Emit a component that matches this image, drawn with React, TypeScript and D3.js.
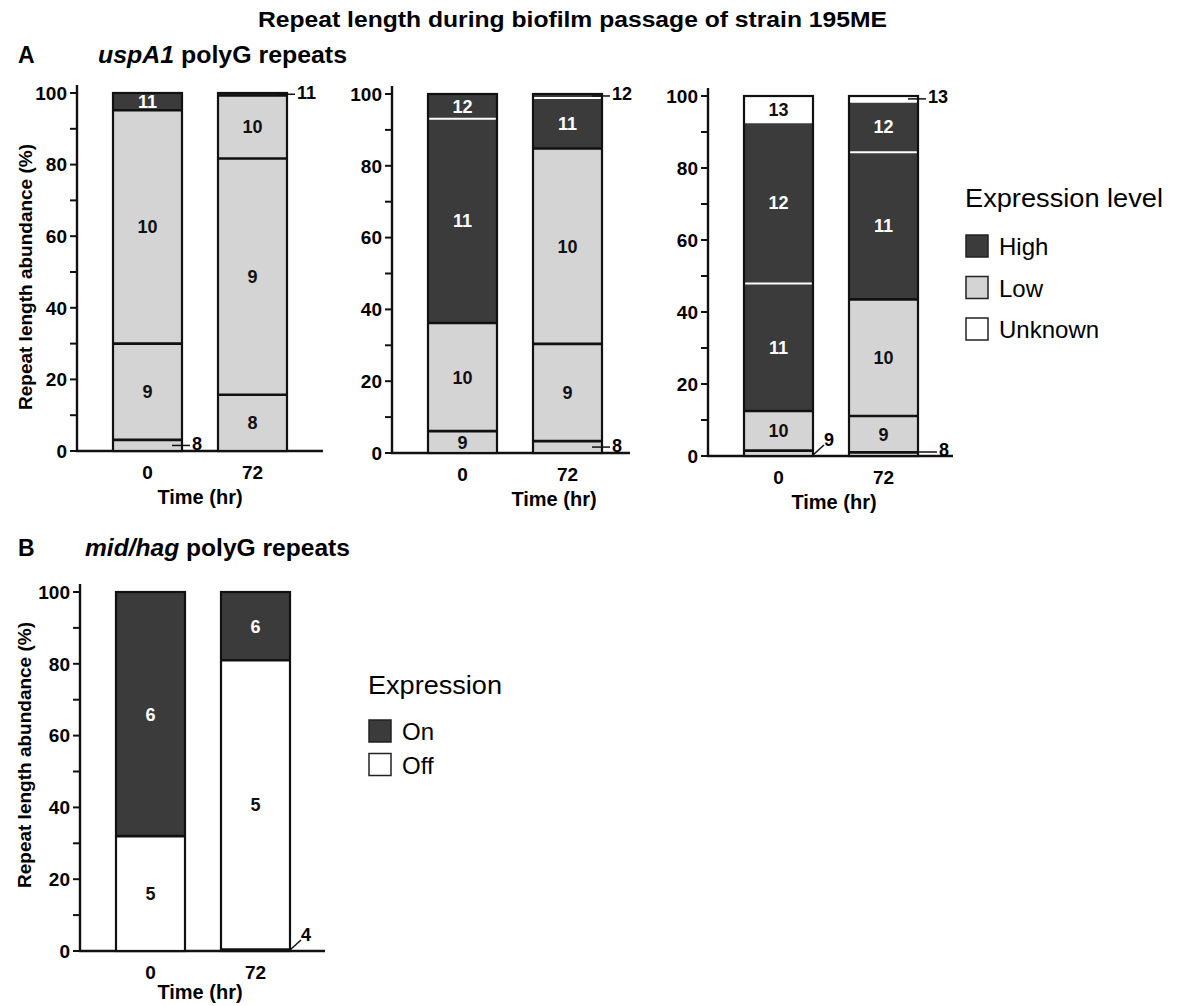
import { useEffect, useRef } from 'react';
import * as d3 from 'd3';

type Level = 'High' | 'Low' | 'Unknown' | 'On' | 'Off';

interface Segment {
    repeat: number;
    pct: number;
    level: Level;
}

// x categories and y ticks
const timeLabels = ['0', '72'];
const yTicks = [0, 20, 40, 60, 80, 100];
const yMinorTicks = [10, 30, 50, 70, 90];

// uspA1, first isolate
const a1Hr0: Segment[] = [
    { repeat: 8, pct: 3.1, level: 'Low' },
    { repeat: 9, pct: 26.9, level: 'Low' },
    { repeat: 10, pct: 65.2, level: 'Low' },
    { repeat: 11, pct: 4.8, level: 'High' },
];
const a1Hr72: Segment[] = [
    { repeat: 8, pct: 15.7, level: 'Low' },
    { repeat: 9, pct: 66.0, level: 'Low' },
    { repeat: 10, pct: 17.6, level: 'Low' },
    { repeat: 11, pct: 0.7, level: 'High' },
];

// uspA1, second isolate
const a2Hr0: Segment[] = [
    { repeat: 9, pct: 6.1, level: 'Low' },
    { repeat: 10, pct: 30.1, level: 'Low' },
    { repeat: 11, pct: 56.9, level: 'High' },
    { repeat: 12, pct: 6.9, level: 'High' },
];
const a2Hr72: Segment[] = [
    { repeat: 8, pct: 3.3, level: 'Low' },
    { repeat: 9, pct: 27.1, level: 'Low' },
    { repeat: 10, pct: 54.4, level: 'Low' },
    { repeat: 11, pct: 14.1, level: 'High' },
    { repeat: 12, pct: 1.1, level: 'High' },
];

// uspA1, third isolate
const a3Hr0: Segment[] = [
    { repeat: 9, pct: 1.5, level: 'Low' },
    { repeat: 10, pct: 11.0, level: 'Low' },
    { repeat: 11, pct: 35.4, level: 'High' },
    { repeat: 12, pct: 44.8, level: 'High' },
    { repeat: 13, pct: 7.3, level: 'Unknown' },
];
const a3Hr72: Segment[] = [
    { repeat: 8, pct: 1.0, level: 'Low' },
    { repeat: 9, pct: 10.1, level: 'Low' },
    { repeat: 10, pct: 32.4, level: 'Low' },
    { repeat: 11, pct: 40.9, level: 'High' },
    { repeat: 12, pct: 14.0, level: 'High' },
    { repeat: 13, pct: 1.6, level: 'Unknown' },
];

// mid/hag
const bHr0: Segment[] = [
    { repeat: 5, pct: 32.0, level: 'Off' },
    { repeat: 6, pct: 68.0, level: 'On' },
];
const bHr72: Segment[] = [
    { repeat: 4, pct: 0.4, level: 'Off' },
    { repeat: 5, pct: 80.6, level: 'Off' },
    { repeat: 6, pct: 19.0, level: 'On' },
];

// small segments labelled outside the bar
const callouts = [
    { bar: a1Hr0, repeat: 8, kind: 'flat' },
    { bar: a1Hr72, repeat: 11, kind: 'flat' },
    { bar: a2Hr72, repeat: 12, kind: 'flat' },
    { bar: a2Hr72, repeat: 8, kind: 'flat' },
    { bar: a3Hr0, repeat: 9, kind: 'slant' },
    { bar: a3Hr72, repeat: 13, kind: 'flat' },
    { bar: a3Hr72, repeat: 8, kind: 'outside' },
    { bar: bHr72, repeat: 4, kind: 'slant' },
];

const uspA1Legend: Level[] = ['High', 'Low', 'Unknown'];
const midHagLegend: Level[] = ['On', 'Off'];

const FILL: Record<Level, string> = {
    High: '#3b3b3b',
    On: '#3b3b3b',
    Low: '#d4d4d4',
    Unknown: '#ffffff',
    Off: '#ffffff',
};
const INK = '#111';
const FONT = '"Liberation Sans", Arial, Helvetica, sans-serif';

const panels = [
    { bars: [a1Hr0, a1Hr72], axisX: 77, barX: 113, axisEnd: 323, y0: 451, y100: 93, timeX: 200, timeDy: 53, yLabel: [25, 277] },
    { bars: [a2Hr0, a2Hr72], axisX: 392, barX: 428, axisEnd: 630, y0: 453, y100: 94, timeX: 554, timeDy: 53, yLabel: null },
    { bars: [a3Hr0, a3Hr72], axisX: 708, barX: 744, axisEnd: 953, y0: 456, y100: 96, timeX: 834, timeDy: 53, yLabel: null },
    { bars: [bHr0, bHr72], axisX: 80, barX: 116, axisEnd: 325, y0: 951, y100: 592, timeX: 200, timeDy: 48, yLabel: [24, 755] },
];

const App = () => {
    const svgRef = useRef<SVGSVGElement>(null);

    useEffect(() => {
        if (!svgRef.current) return;
        const svg = d3.select(svgRef.current);
        svg.selectAll('*').remove();
        svg.style('font-family', FONT);

        // Titles
        svg.append('text')
            .attr('x', 258).attr('y', 27)
            .attr('textLength', 629).attr('lengthAdjust', 'spacingAndGlyphs')
            .style('font-size', '22px').style('font-weight', 'bold')
            .text('Repeat length during biofilm passage of strain 195ME');

        const heading = (letter: string, gene: string, y: number, x0: number, x1: number) => {
            svg.append('text').attr('x', 18).attr('y', y)
                .style('font-size', '23px').style('font-weight', 'bold').text(letter);
            const t = svg.append('text').attr('x', x0).attr('y', y)
                .attr('textLength', x1 - x0).attr('lengthAdjust', 'spacingAndGlyphs')
                .style('font-size', '23px').style('font-weight', 'bold');
            t.append('tspan').style('font-style', 'italic').text(gene);
            t.append('tspan').text(' polyG repeats');
        };
        heading('A', 'uspA1', 63, 98, 347);
        heading('B', 'mid/hag', 556, 85, 350);

        panels.forEach(p => {
            const g = svg.append('g');
            const x = d3.scaleBand<string>()
                .domain(timeLabels)
                .range([p.barX - 18, p.barX + 192])
                .paddingInner(36 / 105)
                .paddingOuter(18 / 105);
            const y = d3.scaleLinear().domain([0, 100]).range([p.y0, p.y100]);
            const bw = x.bandwidth();

            // axes
            g.append('line')
                .attr('x1', p.axisX).attr('x2', p.axisX)
                .attr('y1', p.y0).attr('y2', y(100) - 8)
                .attr('stroke', INK).attr('stroke-width', 2.4);
            g.append('line')
                .attr('x1', p.axisX - 1).attr('x2', p.axisEnd)
                .attr('y1', p.y0).attr('y2', p.y0)
                .attr('stroke', INK).attr('stroke-width', 2.4);
            [...yTicks, ...yMinorTicks].forEach(t => {
                g.append('line')
                    .attr('x1', p.axisX - 7).attr('x2', p.axisX)
                    .attr('y1', y(t)).attr('y2', y(t))
                    .attr('stroke', INK).attr('stroke-width', 2);
            });
            yTicks.forEach(t => {
                g.append('text')
                    .attr('x', p.axisX - 10).attr('y', y(t)).attr('dy', '0.36em')
                    .attr('text-anchor', 'end')
                    .style('font-size', '19px').style('font-weight', 'bold')
                    .text(t);
            });
            timeLabels.forEach(t => {
                g.append('text')
                    .attr('x', (x(t) ?? 0) + bw / 2).attr('y', p.y0 + 28)
                    .attr('text-anchor', 'middle')
                    .style('font-size', '19px').style('font-weight', 'bold')
                    .text(t);
            });
            g.append('text')
                .attr('x', p.timeX).attr('y', p.y0 + p.timeDy)
                .attr('text-anchor', 'middle')
                .style('font-size', '20px').style('font-weight', 'bold')
                .text('Time (hr)');
            if (p.yLabel) {
                g.append('text')
                    .attr('transform', `translate(${p.yLabel[0]},${p.yLabel[1]}) rotate(-90)`)
                    .attr('dy', '0.35em')
                    .attr('text-anchor', 'middle')
                    .style('font-size', '19px').style('font-weight', 'bold')
                    .text('Repeat length abundance (%)');
            }

            // stacked bars
            p.bars.forEach((segs, i) => {
                const bx = x(timeLabels[i]) ?? 0;
                const tops = Array.from(d3.cumsum(segs, s => s.pct));
                const bottom = (k: number) => (k === 0 ? 0 : tops[k - 1]);

                segs.forEach((s, k) => {
                    g.append('rect')
                        .attr('x', bx).attr('y', y(tops[k]))
                        .attr('width', bw).attr('height', y(bottom(k)) - y(tops[k]))
                        .attr('fill', FILL[s.level]);
                });

                // outline
                g.append('rect')
                    .attr('x', bx).attr('y', y(100))
                    .attr('width', bw).attr('height', y(0) - y(100))
                    .attr('fill', 'none').attr('stroke', INK).attr('stroke-width', 2.2);

                // separators
                segs.forEach((s, k) => {
                    if (k === 0) return;
                    const prev = segs[k - 1];
                    const white = (prev.level === 'High' && s.level === 'High') || s.level === 'Unknown';
                    g.append('line')
                        .attr('x1', bx + (white ? 1.2 : 0)).attr('x2', bx + bw - (white ? 1.2 : 0))
                        .attr('y1', y(bottom(k))).attr('y2', y(bottom(k)))
                        .attr('stroke', white ? '#fff' : INK)
                        .attr('stroke-width', white ? 2 : 2.6);
                });

                // labels
                segs.forEach((s, k) => {
                    const c = callouts.find(o => o.bar === segs && o.repeat === s.repeat);
                    const right = bx + bw;
                    const mid = y((bottom(k) + tops[k]) / 2);
                    if (!c) {
                        g.append('text')
                            .attr('x', bx + bw / 2).attr('y', mid).attr('dy', '0.36em')
                            .attr('text-anchor', 'middle')
                            .attr('fill', s.level === 'High' || s.level === 'On' ? '#fff' : INK)
                            .style('font-size', '18px').style('font-weight', 'bold')
                            .text(s.repeat);
                        return;
                    }
                    if (c.kind === 'slant') {
                        g.append('line')
                            .attr('x1', right).attr('y1', p.y0 - 1)
                            .attr('x2', right + 11).attr('y2', p.y0 - 11)
                            .attr('stroke', INK).attr('stroke-width', 1.5);
                        g.append('text')
                            .attr('x', right + 11).attr('y', p.y0 - 10)
                            .style('font-size', '18px').style('font-weight', 'bold')
                            .text(s.repeat);
                        return;
                    }
                    const ly = c.kind === 'outside' ? p.y0 - 4 : mid;
                    const start = c.kind === 'outside' ? right : right - 10;
                    const end = c.kind === 'outside' ? right + 19 : right + 8;
                    g.append('line')
                        .attr('x1', start).attr('x2', end)
                        .attr('y1', ly).attr('y2', ly)
                        .attr('stroke', INK).attr('stroke-width', 1.5);
                    g.append('text')
                        .attr('x', end + 2).attr('y', ly - 2).attr('dy', '0.36em')
                        .style('font-size', '18px').style('font-weight', 'bold')
                        .text(s.repeat);
                });
            });
        });

        // legends
        const legend = (title: string, items: Level[], lx: number, titleY: number, firstY: number, step: number, titleLen: number) => {
            const g = svg.append('g');
            g.append('text')
                .attr('x', lx).attr('y', titleY)
                .attr('textLength', titleLen).attr('lengthAdjust', 'spacingAndGlyphs')
                .style('font-size', '25px')
                .text(title);
            items.forEach((it, i) => {
                const top = firstY + i * step;
                g.append('rect')
                    .attr('x', lx + 1).attr('y', top)
                    .attr('width', 22).attr('height', 22)
                    .attr('fill', FILL[it]).attr('stroke', '#222').attr('stroke-width', 1.5);
                g.append('text')
                    .attr('x', lx + 34).attr('y', top + 20)
                    .style('font-size', '24px')
                    .text(it);
            });
        };
        legend('Expression level', uspA1Legend, 965, 207, 235, 41.5, 198);
        legend('Expression', midHagLegend, 368, 694, 720, 33.5, 134);
    }, []);

    return (
        <svg
            ref={svgRef}
            width={1181}
            height={1006}
            style={{ position: 'absolute', left: 0, top: 0, background: '#fff' }}
        />
    );
};

export default App;
